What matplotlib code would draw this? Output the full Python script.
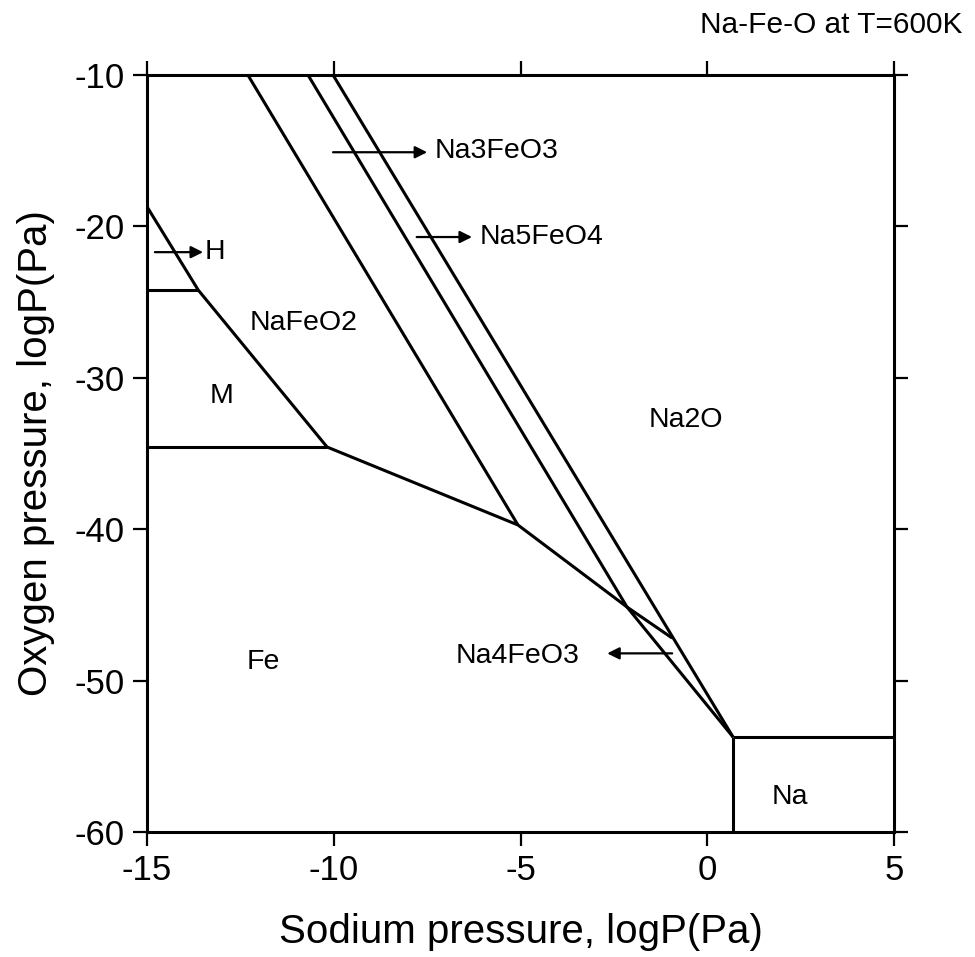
import matplotlib.pyplot as plt

plt.rcParams['font.family'] = ['Liberation Sans', 'DejaVu Sans']
plt.rcParams['axes.unicode_minus'] = False

# phase boundaries, log P(Na) vs log P(O2)
h_nafeo2_x = [-15.0, -13.63, -10.18]
h_nafeo2_y = [-18.7, -24.2, -34.57]
h_m_x = [-15.0, -13.63]
h_m_y = [-24.2, -24.2]
m_fe_x = [-15.0, -10.18]
m_fe_y = [-34.57, -34.57]
fe_top_x = [-10.18, -5.07, -2.15, 0.69]
fe_top_y = [-34.57, -39.72, -45.14, -53.73]
l1_x = [-12.30, -5.07]
l1_y = [-10.0, -39.72]
l2_x = [-10.69, -2.15]
l2_y = [-10.0, -45.14]
l3_x = [-10.02, 0.69]
l3_y = [-10.0, -53.73]
na4_x = [-2.15, -0.94]
na4_y = [-45.14, -47.19]
na_v_x = [0.69, 0.69]
na_v_y = [-53.73, -60.0]
na_h_x = [0.69, 5.0]
na_h_y = [-53.73, -53.73]

# phase labels
labels = ["M", "NaFeO2", "Fe", "Na2O", "Na"]
label_x = [-13.0, -10.8, -11.9, -0.57, 2.22]
label_y = [-31.2, -26.4, -48.8, -32.8, -57.7]

# arrowed labels: text, text pos, arrow tail, arrow head
arrow_text = ["H", "Na3FeO3", "Na5FeO4", "Na4FeO3"]
arrow_text_x = [-13.45, -7.3, -6.1, -5.07]
arrow_text_y = [-21.7, -15.0, -20.7, -48.4]
arrow_tail_x = [-14.79, -10.02, -7.78, -0.94]
arrow_head_x = [-13.5, -7.5, -6.3, -2.68]
arrow_y = [-21.7, -15.1, -20.7, -48.2]
arrow_ha = ["left", "left", "left", "center"]

fig = plt.figure(figsize=(9.75, 9.57), dpi=100)
ax = fig.add_axes([0.1508, 0.1306, 0.7662, 0.791])

lw = 2.2
for xs, ys in [(h_nafeo2_x, h_nafeo2_y), (h_m_x, h_m_y), (m_fe_x, m_fe_y),
               (fe_top_x, fe_top_y), (l1_x, l1_y), (l2_x, l2_y), (l3_x, l3_y),
               (na4_x, na4_y), (na_v_x, na_v_y), (na_h_x, na_h_y)]:
    ax.plot(xs, ys, color="black", lw=lw, solid_capstyle="butt")

for t, x, y in zip(labels, label_x, label_y):
    ax.text(x, y, t, fontsize=20.5, ha="center", va="center")

for t, tx, ty, x0, x1, y, ha in zip(arrow_text, arrow_text_x, arrow_text_y,
                                     arrow_tail_x, arrow_head_x, arrow_y, arrow_ha):
    ax.annotate("", xy=(x1, y), xytext=(x0, y),
                arrowprops=dict(arrowstyle="-|>", color="black", lw=1.6,
                                mutation_scale=18, shrinkA=0, shrinkB=0))
    ax.text(tx, ty, t, fontsize=20.5, ha=ha, va="center")

ax.set_xlim(-15, 5)
ax.set_ylim(-60, -10)
ax.set_xticks([-15, -10, -5, 0, 5])
ax.set_yticks([-60, -50, -40, -30, -20, -10])
ax.tick_params(direction="out", length=10, width=1.6, labelsize=25,
               top=True, right=True)
ax.tick_params(axis="x", pad=6)
ax.tick_params(axis="y", pad=6)
for s in ax.spines.values():
    s.set_linewidth(2.2)

ax.set_xlabel("Sodium pressure, logP(Pa)", fontsize=29)
ax.xaxis.set_label_coords(0.5, -0.132)
ax.xaxis.label.set_va("center")
ax.set_ylabel("Oxygen pressure, logP(Pa)", fontsize=29)
ax.yaxis.set_label_coords(-0.149, 0.5)
ax.yaxis.label.set_va("center")
fig.text(0.987, 0.974, "Na-Fe-O at T=600K", fontsize=21.5, ha="right", va="center")

fig.savefig("out.png", dpi=100)
